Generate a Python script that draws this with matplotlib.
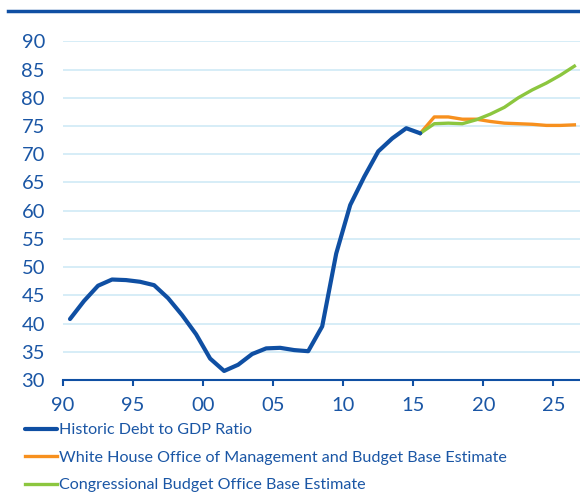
import matplotlib
matplotlib.use("Agg")
import matplotlib.pyplot as plt
from matplotlib.lines import Line2D
import numpy as np

plt.rcParams['font.family'] = ['Lato', 'DejaVu Sans']

BLUE = '#0f4fa3'
TXT = '#1a56a5'
ORANGE = '#f7901e'
GREEN = '#8cc63f'
GRID = '#cfeaf6'

# fiscal years and debt-to-GDP ratios (%)
hist_years = list(range(1990, 2016))
hist_vals = [40.8, 44.0, 46.7, 47.8, 47.7, 47.4, 46.8, 44.5, 41.5, 38.1,
             33.8, 31.6, 32.7, 34.6, 35.6, 35.7, 35.3, 35.1, 39.5, 52.4,
             61.0, 66.0, 70.5, 72.8, 74.6, 73.7]
proj_years = list(range(2015, 2027))
omb_vals = [73.7, 76.6, 76.6, 76.2, 76.2, 75.8, 75.5, 75.4, 75.3, 75.1, 75.1, 75.2]
cbo_vals = [73.7, 75.4, 75.5, 75.4, 76.1, 77.1, 78.3, 80.0, 81.4, 82.6, 84.0, 85.6]
labels = ['Historic Debt to GDP Ratio',
          'White House Office of Management and Budget Base Estimate',
          'Congressional Budget Office Base Estimate']

fig = plt.figure(figsize=(5.8, 4.98), dpi=100)
ax = fig.add_axes([63/580, 1 - 380/498, 1 - 63/580, (380 - 41.3)/498])

# points sit in the middle of each year slot
hx = np.array(hist_years) + 0.5
px = np.array(proj_years) + 0.5
ax.plot(hx, hist_vals, color=BLUE, lw=3, label=labels[0], solid_capstyle='round', zorder=3)
ax.plot(px, omb_vals, color=ORANGE, lw=2.4, label=labels[1], zorder=2)
ax.plot(px, cbo_vals, color=GREEN, lw=2.4, label=labels[2], zorder=2.5)

ax.set_xlim(1990, 2026.9)
ax.set_ylim(30, 90)
ax.set_yticks(range(30, 91, 5))
ax.set_xticks(range(1990, 2026, 5))
ax.set_xticklabels(['%02d' % (y % 100) for y in range(1990, 2026, 5)])
ax.grid(axis='y', color=GRID, lw=1.2)
ax.set_axisbelow(True)
for s in ['top', 'right', 'left']:
    ax.spines[s].set_visible(False)
ax.spines['bottom'].set_color(BLUE)
ax.spines['bottom'].set_linewidth(1.5)
ax.tick_params(axis='x', colors=BLUE, length=4, width=1.5, pad=8,
               labelcolor=TXT, labelsize=14.5)
ax.tick_params(axis='y', length=0, pad=13, labelcolor=TXT, labelsize=14.5)

leg = ax.legend(loc='upper left', bbox_to_anchor=(25/580, 1 - 423/498),
                bbox_transform=fig.transFigure, frameon=False,
                handlelength=2.0, handletextpad=0.1, labelspacing=0.82,
                borderaxespad=0, borderpad=0, fontsize=11.6)
for t in leg.get_texts():
    t.set_color(TXT)

# rule across the top
fig.add_artist(Line2D([8/580, 1], [1 - 11/498, 1 - 11/498], color=BLUE, lw=2.5,
                      transform=fig.transFigure))

fig.savefig('out.png', dpi=100)
